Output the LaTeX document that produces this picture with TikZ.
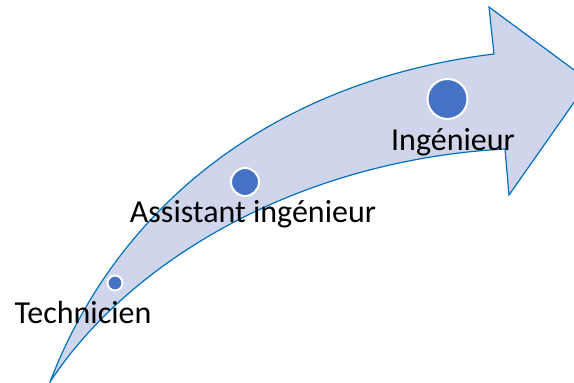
\documentclass[tikz,border=0pt]{standalone}
\usepackage{fontspec}
\setmainfont{Carlito}
\definecolor{bandfill}{HTML}{CFD5EA}
\definecolor{bandline}{HTML}{0070C0}
\definecolor{dotblue}{HTML}{4472C4}
\begin{document}
\begin{tikzpicture}[x=1pt,y=-1pt,
  dot/.style={circle,fill=dotblue,draw=white,line width=2pt,inner sep=0pt},
  lbl/.style={anchor=base,font=\fontsize{32}{36}\selectfont,inner sep=0pt}]
\useasboundingbox (0,0) rectangle (574,383);
\clip (0,0) rectangle (574,383);
\draw[fill=bandfill,draw=bandline,line width=1.2pt,line join=miter]
  (50,382) .. controls (120,200) and (280,80) .. (494,54)
  -- (489,7) -- (589,81) -- (509,195) -- (505,149)
  .. controls (300,160) and (130,260) .. (50,382) -- cycle;
\node[dot,minimum size=15pt] (d1) at (115,283) {};
\node[dot,minimum size=28pt] (d2) at (245,182) {};
\node[dot,minimum size=40pt] (d3) at (447.5,99) {};
\node[lbl] (t1) at (83,323) {Technicien};
\node[lbl] (t2) at (253,222) {Assistant ingénieur};
\node[lbl] (t3) at (453,150) {Ingénieur};
\end{tikzpicture}
\end{document}
